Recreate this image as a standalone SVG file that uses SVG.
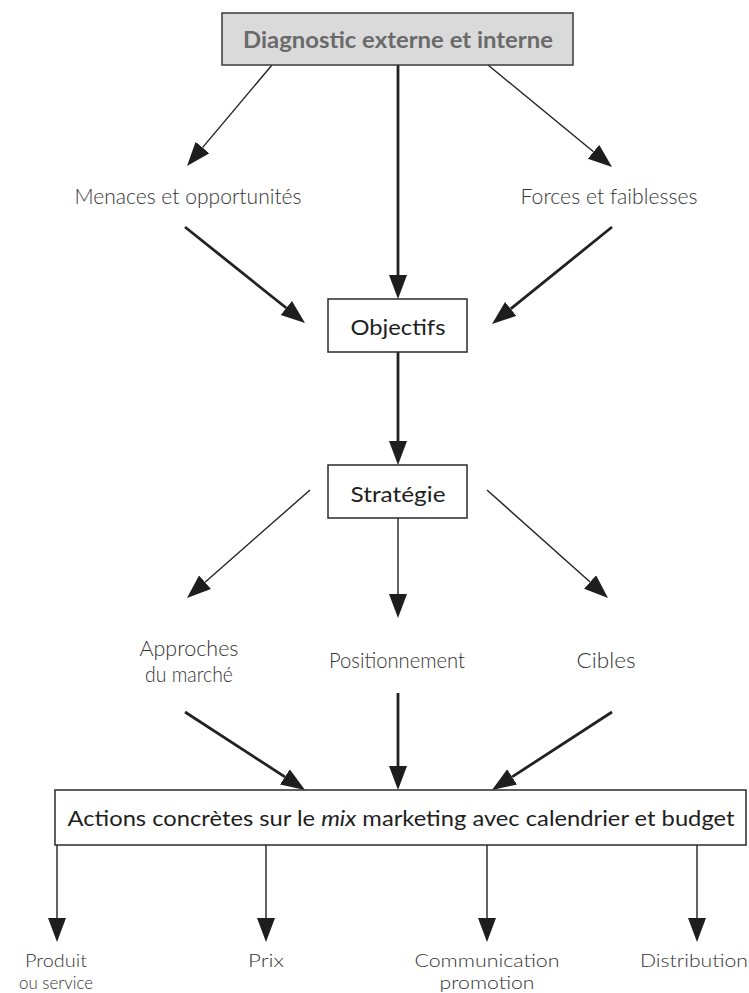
<svg xmlns="http://www.w3.org/2000/svg" width="749" height="993" viewBox="0 0 749 993">
  <style>
    .box { fill: #ffffff; stroke: #2a2a2a; stroke-width: 1.5; }
    .box-grey { fill: #dadada; stroke: #3a3a3a; stroke-width: 1.5; }
    .title { font-family: "Lato", "Liberation Sans", sans-serif; font-weight: 700; font-size: 23px; fill: #6a6a6a; text-anchor: middle; }
    .head { font-family: "Lato", "Liberation Sans", sans-serif; font-weight: 400; font-size: 22px; fill: #1e1e1e; text-anchor: middle; }
    .label { font-family: "Lato", "Liberation Sans", sans-serif; font-weight: 300; font-size: 21px; fill: #333333; text-anchor: middle; }
    .small { font-family: "Lato", "Liberation Sans", sans-serif; font-weight: 300; font-size: 17px; fill: #333333; text-anchor: middle; }
    .thin { stroke: #222222; stroke-width: 1.4; fill: none; marker-end: url(#arrow); }
    .thick { stroke: #222222; stroke-width: 2.8; fill: none; marker-end: url(#arrow); }
  </style>
  <defs>
    <!-- filled triangular head, base at the line end, tip 24px further on -->
    <marker id="arrow" markerUnits="userSpaceOnUse" markerWidth="26" markerHeight="20" refX="0" refY="9" orient="auto" viewBox="0 0 26 20">
      <path d="M0,0 L24,9 L0,18 Z" fill="#1e1e1e"/>
    </marker>
  </defs>

  <rect width="749" height="993" fill="#ffffff"/>

  <g id="connectors">
    <line class="thin" x1="272" y1="65" x2="202.5" y2="147.6"/>
    <line class="thin" x1="488" y1="65" x2="593.5" y2="151.8"/>
    <line class="thick" x1="398" y1="65" x2="398" y2="275"/>
    <line class="thick" x1="185" y1="227" x2="286.3" y2="308"/>
    <line class="thick" x1="612" y1="227" x2="510.7" y2="308.9"/>
    <line class="thick" x1="398" y1="352" x2="398" y2="441"/>
    <line class="thin" x1="310" y1="490" x2="205" y2="582.2"/>
    <line class="thin" x1="398" y1="518" x2="398" y2="594"/>
    <line class="thin" x1="487" y1="490" x2="590.1" y2="582"/>
    <line class="thick" x1="185" y1="712" x2="284.9" y2="776.9"/>
    <line class="thick" x1="398" y1="693" x2="398" y2="766"/>
    <line class="thick" x1="612" y1="712" x2="512.1" y2="776.9"/>
    <line class="thin" x1="57" y1="845" x2="57" y2="918"/>
    <line class="thin" x1="266" y1="845" x2="266" y2="918"/>
    <line class="thin" x1="487" y1="845" x2="487" y2="918"/>
    <line class="thin" x1="697" y1="845" x2="697" y2="918"/>
  </g>

  <g id="diagnostic">
    <rect class="box-grey" x="222" y="13" width="351" height="52"/>
    <text class="title" x="398" y="48" textLength="310" lengthAdjust="spacingAndGlyphs">Diagnostic externe et interne</text>
  </g>

  <g id="menaces">
    <text class="label" x="188" y="204" textLength="227" lengthAdjust="spacingAndGlyphs">Menaces et opportunités</text>
  </g>

  <g id="forces">
    <text class="label" x="609" y="204" textLength="177" lengthAdjust="spacingAndGlyphs">Forces et faiblesses</text>
  </g>

  <g id="objectifs">
    <rect class="box" x="328" y="299" width="139" height="53"/>
    <text class="head" x="398" y="335" textLength="95" lengthAdjust="spacingAndGlyphs">Objectifs</text>
  </g>

  <g id="strategie">
    <rect class="box" x="328" y="465" width="139" height="53"/>
    <text class="head" x="398" y="502" textLength="95" lengthAdjust="spacingAndGlyphs">Stratégie</text>
  </g>

  <g id="approches">
    <text class="label" x="189" y="656" textLength="99" lengthAdjust="spacingAndGlyphs">Approches</text>
    <text class="label" x="189" y="682" textLength="88" lengthAdjust="spacingAndGlyphs">du marché</text>
  </g>

  <g id="positionnement">
    <text class="label" x="397" y="668" textLength="136" lengthAdjust="spacingAndGlyphs">Positionnement</text>
  </g>

  <g id="cibles">
    <text class="label" x="606" y="668" textLength="59" lengthAdjust="spacingAndGlyphs">Cibles</text>
  </g>

  <g id="actions">
    <rect class="box" x="55" y="790" width="691" height="55"/>
    <text class="head" x="401" y="826" textLength="667" lengthAdjust="spacingAndGlyphs">Actions concrètes sur le <tspan font-style="italic">mix</tspan> marketing avec calendrier et budget</text>
  </g>

  <g id="produit">
    <text class="small" x="56" y="967" textLength="62" lengthAdjust="spacingAndGlyphs">Produit</text>
    <text class="small" x="56" y="989" textLength="74" lengthAdjust="spacingAndGlyphs">ou service</text>
  </g>

  <g id="prix">
    <text class="small" x="266" y="967" textLength="36" lengthAdjust="spacingAndGlyphs">Prix</text>
  </g>

  <g id="communication">
    <text class="small" x="487" y="967" textLength="145" lengthAdjust="spacingAndGlyphs">Communication</text>
    <text class="small" x="487" y="989" textLength="95" lengthAdjust="spacingAndGlyphs">promotion</text>
  </g>

  <g id="distribution">
    <text class="small" x="694" y="967" textLength="108" lengthAdjust="spacingAndGlyphs">Distribution</text>
  </g>
</svg>
